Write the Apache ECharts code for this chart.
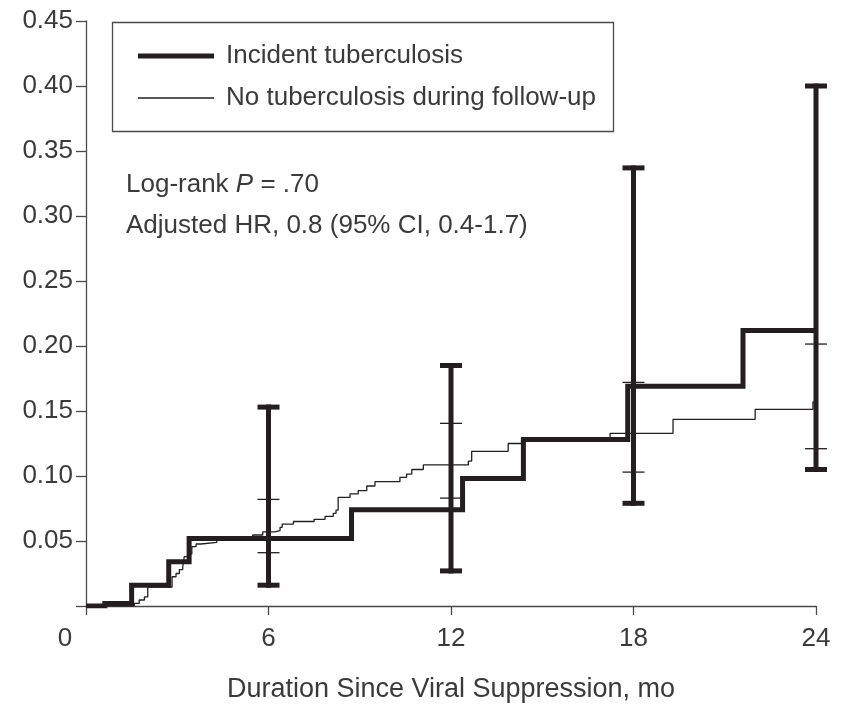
<!DOCTYPE html>
<html>
<head>
<meta charset="utf-8">
<script src="https://cdn.jsdelivr.net/npm/echarts@6/dist/echarts.min.js"></script>
<style>
  html, body { margin: 0; padding: 0; background: #ffffff; }
  #chart { width: 848px; height: 705px; }
</style>
</head>
<body>
<div id="chart"></div>
<script>
// Cumulative incidence, patients with incident tuberculosis (step at each month)
const tbMonths = [0, 0.62, 1.5, 2.72, 3.39, 8.73, 12.38, 14.38, 17.81, 21.6, 24];
const tbValues = [0, 0.002, 0.016, 0.034, 0.052, 0.074, 0.098, 0.128, 0.169, 0.212, 0.212];

// Cumulative incidence, patients without tuberculosis during follow-up
const noTbMonths = [0, 1.59, 1.75, 1.92, 2.03, 2.83, 2.96, 3.07, 3.18, 3.23, 3.34, 3.48, 3.62, 3.78, 4.3,
  5.48, 5.81, 6.2, 6.38, 6.45, 6.82, 7.5, 7.86, 8.13, 8.22, 8.29, 8.68, 8.95, 9.23, 9.5,
  10.32, 10.54, 10.71, 11.09, 12.57, 12.68, 13.88, 14.32, 17.23, 19.3, 22.0, 23.9, 24];
const noTbValues = [0, 0.002, 0.0046, 0.007, 0.0145, 0.0225, 0.025, 0.028, 0.030, 0.038, 0.040, 0.0456, 0.0477, 0.049, 0.051,
  0.0546, 0.057, 0.058, 0.0605, 0.063, 0.065, 0.0667, 0.069, 0.0713, 0.0738, 0.0836, 0.0862, 0.0887, 0.0923, 0.0956,
  0.099, 0.1015, 0.105, 0.1085, 0.1115, 0.119, 0.125, 0.1277, 0.1328, 0.1436, 0.1513, 0.157, 0.157];

// 95% confidence limits at the landmark months
const ciMonths = [6, 12, 18, 24];
const tbLower = [0.016, 0.027, 0.079, 0.105];
const tbUpper = [0.153, 0.185, 0.337, 0.400];
const noTbLower = [0.041, 0.083, 0.103, 0.121];
const noTbUpper = [0.082, 0.1405, 0.172, 0.2015];

// Axis ticks
const xTicks = [0, 6, 12, 18, 24];
const yTicks = [0, 0.05, 0.10, 0.15, 0.20, 0.25, 0.30, 0.35, 0.40, 0.45];

const FONT = "'Liberation Sans', Arial, Helvetica, sans-serif";
const INK = '#231f20';
const TEXT = '#3a3a3a';
const AXIS = '#4a4a4a';

const chart = echarts.init(document.getElementById('chart'), null, { renderer: 'canvas' });

function zip(xs, ys) { return xs.map((x, i) => [x, ys[i]]); }

// Vertical CI bar with end caps
function ciBarRenderer(params, api) {
  const x = api.value(0);
  const lo = api.coord([x, api.value(1)]);
  const hi = api.coord([x, api.value(2)]);
  const hw = 11;
  const st = { stroke: INK, lineWidth: 5 };
  return {
    type: 'group',
    children: [
      { type: 'line', shape: { x1: lo[0], y1: lo[1] + 2.5, x2: hi[0], y2: hi[1] - 2.5 }, style: st },
      { type: 'line', shape: { x1: lo[0] - hw, y1: lo[1], x2: lo[0] + hw, y2: lo[1] }, style: st },
      { type: 'line', shape: { x1: hi[0] - hw, y1: hi[1], x2: hi[0] + hw, y2: hi[1] }, style: st }
    ]
  };
}

// Thin horizontal ticks marking the lower / upper limits
function ciTickRenderer(params, api) {
  const x = api.value(0);
  const lo = api.coord([x, api.value(1)]);
  const hi = api.coord([x, api.value(2)]);
  const hw = 11;
  const st = { stroke: INK, lineWidth: 1.3 };
  return {
    type: 'group',
    children: [
      { type: 'line', shape: { x1: lo[0] - hw, y1: lo[1], x2: lo[0] + hw, y2: lo[1] }, style: st },
      { type: 'line', shape: { x1: hi[0] - hw, y1: hi[1], x2: hi[0] + hw, y2: hi[1] }, style: st }
    ]
  };
}

const option = {
  animation: false,
  backgroundColor: '#ffffff',
  textStyle: { fontFamily: FONT },
  grid: { left: 86, right: 32, top: 21, bottom: 99, containLabel: false, outerBoundsMode: 'none' },
  xAxis: {
    type: 'value',
    min: xTicks[0],
    max: xTicks[xTicks.length - 1],
    interval: 6,
    name: 'Duration Since Viral Suppression, mo',
    nameLocation: 'middle',
    nameGap: 70,
    nameTextStyle: { fontFamily: FONT, fontSize: 27, color: TEXT },
    axisLine: { show: true, lineStyle: { color: AXIS, width: 1.3 } },
    axisTick: { show: true, inside: false, length: 9, lineStyle: { color: AXIS, width: 1.3 } },
    axisLabel: {
      margin: 20,
      fontFamily: FONT,
      fontSize: 26,
      color: TEXT,
      formatter: v => (v === 0 ? '{z|0}' : String(v)),
      rich: { z: { fontFamily: FONT, fontSize: 26, color: TEXT, padding: [0, 42, 0, 0] } }
    },
    splitLine: { show: false }
  },
  yAxis: {
    type: 'value',
    min: yTicks[0],
    max: yTicks[yTicks.length - 1],
    interval: 0.05,
    axisLine: { show: true, lineStyle: { color: AXIS, width: 1.3 } },
    axisTick: { show: true, inside: false, length: 10, lineStyle: { color: AXIS, width: 1.3 } },
    axisLabel: {
      margin: 13,
      fontFamily: FONT,
      fontSize: 26,
      color: TEXT,
      formatter: v => (Math.abs(v) < 1e-9 ? '' : v.toFixed(2))
    },
    splitLine: { show: false }
  },
  series: [
    {
      name: 'No tuberculosis during follow-up',
      type: 'line',
      step: 'end',
      showSymbol: false,
      symbol: 'none',
      data: zip(noTbMonths, noTbValues),
      lineStyle: { color: INK, width: 1.3 },
      z: 3
    },
    {
      name: 'Incident tuberculosis',
      type: 'line',
      step: 'end',
      showSymbol: false,
      symbol: 'none',
      data: zip(tbMonths, tbValues),
      lineStyle: { color: INK, width: 5, cap: 'butt', join: 'miter' },
      z: 2
    },
    {
      name: 'Incident tuberculosis 95% CI',
      type: 'custom',
      renderItem: ciBarRenderer,
      data: ciMonths.map((m, i) => [m, tbLower[i], tbUpper[i]]),
      z: 4
    },
    {
      name: 'No tuberculosis 95% CI',
      type: 'custom',
      renderItem: ciTickRenderer,
      data: ciMonths.map((m, i) => [m, noTbLower[i], noTbUpper[i]]),
      z: 5
    }
  ],
  graphic: [
    // legend box
    {
      type: 'rect',
      shape: { x: 112.5, y: 22.5, width: 501, height: 109 },
      style: { fill: '#ffffff', stroke: AXIS, lineWidth: 1.3 },
      z: 10
    },
    {
      type: 'line',
      shape: { x1: 138, y1: 56, x2: 214, y2: 56 },
      style: { stroke: INK, lineWidth: 5 },
      z: 11
    },
    {
      type: 'text',
      x: 226, y: 56,
      style: { text: 'Incident tuberculosis', fontFamily: FONT, fontSize: 26, fill: TEXT, verticalAlign: 'middle' },
      z: 11
    },
    {
      type: 'line',
      shape: { x1: 138, y1: 98, x2: 214, y2: 98 },
      style: { stroke: INK, lineWidth: 1.3 },
      z: 11
    },
    {
      type: 'text',
      x: 226, y: 98,
      style: { text: 'No tuberculosis during follow-up', fontFamily: FONT, fontSize: 26, fill: TEXT, verticalAlign: 'middle' },
      z: 11
    },
    // test statistics
    {
      type: 'text',
      x: 126, y: 185,
      style: {
        text: '{a|Log-rank }{b|P}{a| = .70}',
        verticalAlign: 'middle',
        rich: {
          a: { fontFamily: FONT, fontSize: 26, fill: TEXT },
          b: { fontFamily: FONT, fontSize: 26, fill: TEXT, fontStyle: 'italic' }
        }
      },
      z: 11
    },
    {
      type: 'text',
      x: 126, y: 226,
      style: { text: 'Adjusted HR, 0.8 (95% CI, 0.4-1.7)', fontFamily: FONT, fontSize: 26, fill: TEXT, verticalAlign: 'middle' },
      z: 11
    }
  ]
};

chart.setOption(option);
</script>
</body>
</html>
